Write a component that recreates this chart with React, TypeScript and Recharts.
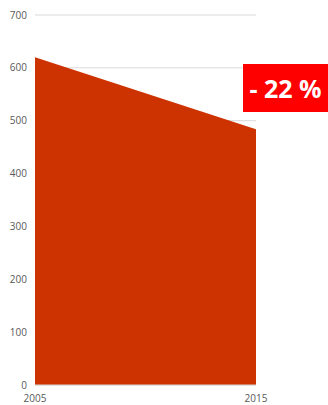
import React from "react";
import { AreaChart, Area, XAxis, YAxis, CartesianGrid } from "recharts";

const years = ["2005", "2015"];
const values = [620, 484];
const yTicks = [0, 100, 200, 300, 400, 500, 600, 700];
const badgeText = "- 22 %";

const data = years.map((y, i) => ({ year: y, value: values[i] }));

const tickStyle = { fontSize: 10, fill: "#595959", stroke: "none", fontFamily: "Open Sans" };

export default function App() {
  return (
    <div style={{ position: "absolute", left: 0, top: 0, width: 328, height: 405, background: "#fff" }}>
      <AreaChart width={328} height={405} data={data} margin={{ top: 15, right: 72, left: 0, bottom: 0 }}>
        <CartesianGrid vertical={false} stroke="#d9d9d9" />
        <XAxis
          dataKey="year"
          height={20}
          axisLine={{ stroke: "#d9d9d9" }}
          tickLine={false}
          tickMargin={4}
          tick={tickStyle}
          interval={0}
        />
        <YAxis
          width={35}
          domain={[0, 700]}
          ticks={yTicks}
          axisLine={false}
          tickLine={false}
          tick={tickStyle}
        />
        <Area
          type="linear"
          dataKey="value"
          stroke="none"
          fill="#cc3300"
          fillOpacity={1}
          isAnimationActive={false}
        />
      </AreaChart>
      <div
        style={{
          position: "absolute",
          left: 243,
          top: 64,
          width: 85,
          height: 48,
          background: "#ff0000",
          color: "#fff",
          fontFamily: "Open Sans",
          fontWeight: 700,
          fontSize: 25,
          display: "flex",
          alignItems: "center",
          justifyContent: "center",
          whiteSpace: "nowrap",
        }}
      >
        {badgeText}
      </div>
    </div>
  );
}
